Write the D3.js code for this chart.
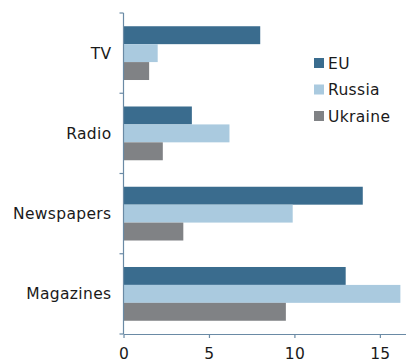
<!DOCTYPE html>
<html>
<head>
<meta charset="utf-8">
<script src="https://cdn.jsdelivr.net/npm/d3@7"></script>
<style>
  html, body { margin: 0; padding: 0; background: #fff; }
  svg { display: block; font-family: "DejaVu Sans", Verdana, sans-serif; }
  text { letter-spacing: 0.35px; }
</style>
</head>
<body>
<svg id="chart" width="406" height="363"></svg>
<script>
// Media categories, top to bottom
const categories = ["TV", "Radio", "Newspapers", "Magazines"];
const seriesNames = ["EU", "Russia", "Ukraine"];
const euValues = [8, 4, 14, 13];
const russiaValues = [2, 6.2, 9.9, 16.2];
const ukraineValues = [1.5, 2.3, 3.5, 9.5];
const xTicks = [0, 5, 10, 15];
const colors = ["#3a6c8e", "#aacadf", "#808285"];

const seriesValues = [euValues, russiaValues, ukraineValues];
const rows = categories.map((c, i) => ({
  category: c,
  values: seriesNames.map((s, j) => ({ series: s, value: seriesValues[j][i] }))
}));

const svg = d3.select("#chart");
const plotLeft = 123.5, plotRight = 405.5, plotTop = 13, plotBottom = 334;
const axisColor = "#6a8aa5";
const fontSize = 15.5;

const x = d3.scaleLinear().domain([0, 16.5]).range([plotLeft, plotRight]);
const y = d3.scaleBand().domain(categories).range([plotTop, plotBottom]).paddingInner(0.33).paddingOuter(0.165);
const yOuter = d3.scaleBand().domain(categories).range([plotTop, plotBottom]);
const ySub = d3.scaleBand().domain(seriesNames).range([0, y.bandwidth()]);

const color = d3.scaleOrdinal().domain(seriesNames).range(colors);

// Bars
const groups = svg.append("g").selectAll("g").data(rows).join("g")
  .attr("transform", d => `translate(0,${y(d.category)})`);
groups.selectAll("rect").data(d => d.values).join("rect")
  .attr("x", x(0))
  .attr("y", d => ySub(d.series))
  .attr("width", d => x(d.value) - x(0))
  .attr("height", ySub.bandwidth())
  .attr("fill", d => color(d.series));

// Category axis: line with ticks at band boundaries
const yAxisG = svg.append("g");
yAxisG.append("line")
  .attr("x1", plotLeft).attr("x2", plotLeft).attr("y1", plotTop).attr("y2", plotBottom)
  .attr("stroke", axisColor).attr("stroke-width", 1.2);
const boundaries = categories.map(c => yOuter(c)).concat([plotBottom]);
yAxisG.selectAll("line.tick").data(boundaries).join("line")
  .attr("class", "tick")
  .attr("x1", plotLeft - 4).attr("x2", plotLeft).attr("y1", d => d).attr("y2", d => d)
  .attr("stroke", axisColor).attr("stroke-width", 1.2);
yAxisG.selectAll("text").data(categories).join("text")
  .attr("x", plotLeft - 12)
  .attr("y", d => yOuter(d) + yOuter.bandwidth() / 2)
  .attr("dy", "0.36em")
  .attr("text-anchor", "end")
  .attr("font-size", fontSize)
  .attr("fill", "#1a1a1a")
  .text(d => d);

// Value axis
const xAxis = d3.axisBottom(x).tickValues(xTicks).tickSize(4).tickPadding(10).tickSizeOuter(0);
const xAxisG = svg.append("g").attr("transform", `translate(0,${plotBottom})`).call(xAxis);
xAxisG.select(".domain").attr("stroke", axisColor).attr("stroke-width", 1.2);
xAxisG.selectAll(".tick line").attr("stroke", axisColor).attr("stroke-width", 1.2);
xAxisG.selectAll(".tick text")
  .attr("font-size", fontSize)
  .attr("font-family", "DejaVu Sans, Verdana, sans-serif")
  .attr("fill", "#1a1a1a");

// Legend
const legend = svg.append("g").attr("transform", "translate(314,63)");
const items = legend.selectAll("g").data(seriesNames).join("g")
  .attr("transform", (d, i) => `translate(0,${i * 26.5})`);
items.append("rect")
  .attr("x", 0).attr("y", -5).attr("width", 10).attr("height", 10)
  .attr("fill", d => color(d));
items.append("text")
  .attr("x", 14).attr("y", 0).attr("dy", "0.36em")
  .attr("font-size", fontSize)
  .attr("fill", "#1a1a1a")
  .text(d => d);
</script>
</body>
</html>
